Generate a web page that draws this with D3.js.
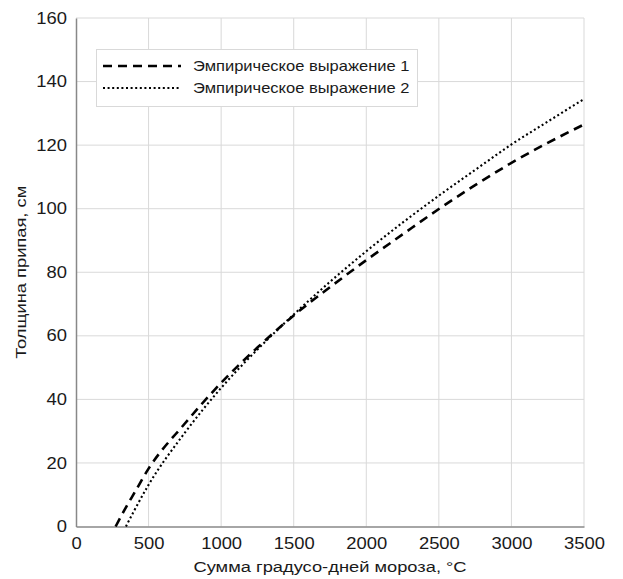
<!DOCTYPE html>
<html>
<head>
<meta charset="utf-8">
<script src="https://cdn.jsdelivr.net/npm/d3@7"></script>
<style>
  html, body { margin: 0; padding: 0; background: #fff; }
  svg { display: block; font-family: "Liberation Sans", Arial, sans-serif; }
</style>
</head>
<body>
<svg id="chart" width="623" height="579"></svg>
<script>
// Freezing degree-days (°C) sampled along the curves
const degreeDays1 = [273, 350, 400, 500, 750, 1000, 1250, 1500, 1750, 2000, 2250, 2500, 2750, 3000, 3250, 3500];
const thickness1  = [0, 6.5, 10.4, 18.2, 32.4, 45.2, 56.3, 66.4, 75.3, 83.8, 91.9, 99.9, 107.4, 114.4, 120.7, 126.5];

const degreeDays2 = [344, 400, 500, 750, 1000, 1250, 1500, 1750, 2000, 2250, 2500, 2750, 3000, 3250, 3500];
const thickness2  = [0, 4.9, 13.1, 29.5, 43.6, 55.7, 66.7, 77.0, 86.6, 95.6, 104.1, 112.2, 120.2, 127.4, 134.5];

const seriesNames = ["Эмпирическое выражение 1", "Эмпирическое выражение 2"];
const xTicks = [0, 500, 1000, 1500, 2000, 2500, 3000, 3500];
const yTicks = [0, 20, 40, 60, 80, 100, 120, 140, 160];
const xTitle = "Сумма градусо-дней мороза, °C";
const yTitle = "Толщина припая, см";

const svg = d3.select("#chart");
const margin = { left: 76, right: 39, top: 18, bottom: 52.5 };
const W = 623, H = 579;
const tickStretch = 1.15;   // labels are set slightly wide
const titleStretch = 1.22;
const legendStretch = 1.18;
const textColor = "#1a1a1a";

const x = d3.scaleLinear().domain([0, 3500]).range([margin.left, W - margin.right]);
const y = d3.scaleLinear().domain([0, 160]).range([H - margin.bottom, margin.top]);

// grid
const grid = svg.append("g");
grid.selectAll("line.vx").data(xTicks.slice(1)).join("line")
  .attr("x1", d => x(d)).attr("x2", d => x(d))
  .attr("y1", y(0)).attr("y2", y(160))
  .attr("stroke", "#d9d9d9").attr("stroke-width", 1);
grid.selectAll("line.hy").data(yTicks.slice(1)).join("line")
  .attr("x1", x(0)).attr("x2", x(3500))
  .attr("y1", d => y(d)).attr("y2", d => y(d))
  .attr("stroke", "#d9d9d9").attr("stroke-width", 1);

// axes
const xAxis = svg.append("g").attr("transform", `translate(0,${y(0)})`)
  .call(d3.axisBottom(x).tickValues(xTicks).tickSize(0).tickPadding(11).tickFormat(d3.format("d")));
const yAxis = svg.append("g").attr("transform", `translate(${x(0)},0)`)
  .call(d3.axisLeft(y).tickValues(yTicks).tickSize(0).tickPadding(10).tickFormat(d3.format("d")));
[xAxis, yAxis].forEach(a => {
  a.select(".domain").attr("stroke", "#888").attr("stroke-width", 1.5);
  a.selectAll("text").attr("font-size", 16).attr("fill", textColor)
    .attr("font-family", "Liberation Sans, Arial, sans-serif");
});
xAxis.selectAll("text").attr("transform", `scale(${tickStretch},1)`);
yAxis.selectAll("text").attr("x", -9 / tickStretch).attr("transform", `scale(${tickStretch},1)`);

// axis titles
svg.append("g").attr("transform", `translate(${(x(0) + x(3500)) / 2},572) scale(${titleStretch},1)`)
  .append("text").attr("text-anchor", "middle").attr("font-size", 15).attr("fill", textColor).text(xTitle);
svg.append("g").attr("transform", `translate(26,${(y(0) + y(160)) / 2}) rotate(-90) scale(${titleStretch},1)`)
  .append("text").attr("text-anchor", "middle").attr("font-size", 15).attr("fill", textColor).text(yTitle);

// curves
const line = d3.line().x(d => x(d[0])).y(d => y(d[1])).curve(d3.curveMonotoneX);
const data1 = degreeDays1.map((d, i) => [d, thickness1[i]]);
const data2 = degreeDays2.map((d, i) => [d, thickness2[i]]);

const styles = [
  { dash: "9,6", width: 2.6 },
  { dash: "2,2.6", width: 2.1 }
];

svg.append("path").datum(data2).attr("d", line)
  .attr("fill", "none").attr("stroke", "#000")
  .attr("stroke-width", styles[1].width).attr("stroke-dasharray", styles[1].dash);
svg.append("path").datum(data1).attr("d", line)
  .attr("fill", "none").attr("stroke", "#000")
  .attr("stroke-width", styles[0].width).attr("stroke-dasharray", styles[0].dash);

// legend
const lg = svg.append("g");
lg.append("rect").attr("x", 96.5).attr("y", 49.5).attr("width", 321).attr("height", 57)
  .attr("fill", "#fff").attr("stroke", "#d9d9d9").attr("stroke-width", 1);
seriesNames.forEach((name, i) => {
  const yy = 66 + i * 22;
  lg.append("line").attr("x1", 103).attr("x2", 181).attr("y1", yy).attr("y2", yy)
    .attr("stroke", "#000").attr("stroke-width", styles[i].width)
    .attr("stroke-dasharray", styles[i].dash);
  lg.append("g").attr("transform", `translate(193,${yy + 5}) scale(${legendStretch},1)`)
    .append("text").attr("font-size", 14).attr("fill", textColor).text(name);
});
</script>
</body>
</html>
